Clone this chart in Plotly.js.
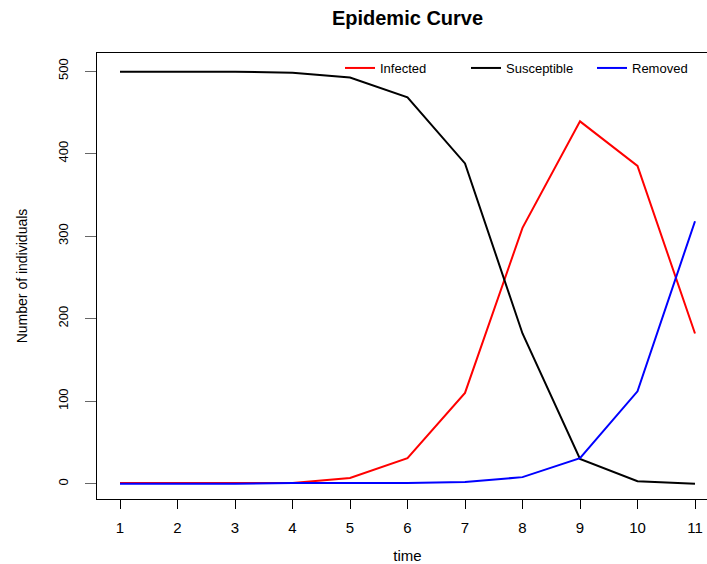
<!DOCTYPE html>
<html>
<head>
<meta charset="utf-8">
<script src="https://cdn.plot.ly/plotly-3.0.1.min.js"></script>
<style>
html, body { margin: 0; padding: 0; overflow: hidden; background: #fff; }
#chart { width: 720px; height: 564px; }
</style>
</head>
<body>
<div id="chart"></div>
<script>
// Data
var time = [1, 2, 3, 4, 5, 6, 7, 8, 9, 10, 11];
var infected    = [1, 1, 1, 1, 7, 31, 110, 310, 439, 385, 182];
var susceptible = [499, 499, 499, 498, 492, 468, 388, 182, 30, 3, 0];
var removed     = [0, 0, 0, 1, 1, 1, 2, 8, 31, 112, 318];
var xTicks = [1, 2, 3, 4, 5, 6, 7, 8, 9, 10, 11];
var yTicks = [0, 100, 200, 300, 400, 500];

var font = "'Liberation Sans', Arial, Helvetica, sans-serif";

var traces = [
  { x: time, y: infected, name: 'Infected', type: 'scatter', mode: 'lines',
    line: { color: '#FF0000', width: 2 } },
  { x: time, y: susceptible, name: 'Susceptible', type: 'scatter', mode: 'lines',
    line: { color: '#000000', width: 2 } },
  { x: time, y: removed, name: 'Removed', type: 'scatter', mode: 'lines',
    line: { color: '#0000FF', width: 2 } }
];

var layout = {
  width: 720,
  height: 564,
  margin: { l: 97, r: 2, t: 53, b: 65 },
  paper_bgcolor: '#ffffff',
  plot_bgcolor: '#ffffff',
  font: { family: font, color: '#000000', size: 13 },
  title: {
    text: '<b>Epidemic Curve</b>',
    font: { family: font, size: 20, color: '#000000' },
    x: 0.5, xanchor: 'center', xref: 'paper',
    y: 1 - 18 / 564, yanchor: 'middle', yref: 'container'
  },
  showlegend: true,
  legend: {
    orientation: 'h',
    x: 1, xanchor: 'right',
    y: 1, yanchor: 'top',
    font: { family: font, size: 13, color: '#000000' },
    bgcolor: 'rgba(0,0,0,0)',
    borderwidth: 0,
    entrywidth: 81, entrywidthmode: 'pixels',
    traceorder: 'normal'
  },
  xaxis: {
    range: [0.6, 11.4],
    tickmode: 'array', tickvals: xTicks, ticktext: xTicks.map(String),
    ticks: 'outside', ticklen: 9, tickwidth: 1, tickcolor: '#000000',
    ticklabelstandoff: 6,
    showline: true, linecolor: '#000000', linewidth: 1, mirror: true,
    showgrid: false, zeroline: false,
    tickfont: { family: font, size: 15, color: '#000000' },
    title: { text: 'time', font: { family: font, size: 15, color: '#000000' }, standoff: 30 }
  },
  yaxis: {
    range: [-18.5, 521.8],
    tickmode: 'array', tickvals: yTicks, ticktext: yTicks.map(String),
    ticks: 'outside', ticklen: 11, tickwidth: 1, tickcolor: '#666666',
    tickangle: -90,
    ticklabelstandoff: 12,
    showline: true, linecolor: '#000000', linewidth: 1, mirror: true,
    showgrid: false, zeroline: false,
    tickfont: { family: font, size: 13, color: '#000000' },
    title: { text: 'Number of individuals', font: { family: font, size: 14, color: '#000000' }, standoff: 24 }
  }
};

Plotly.newPlot('chart', traces, layout, { staticPlot: true, displayModeBar: false });
</script>
</body>
</html>
